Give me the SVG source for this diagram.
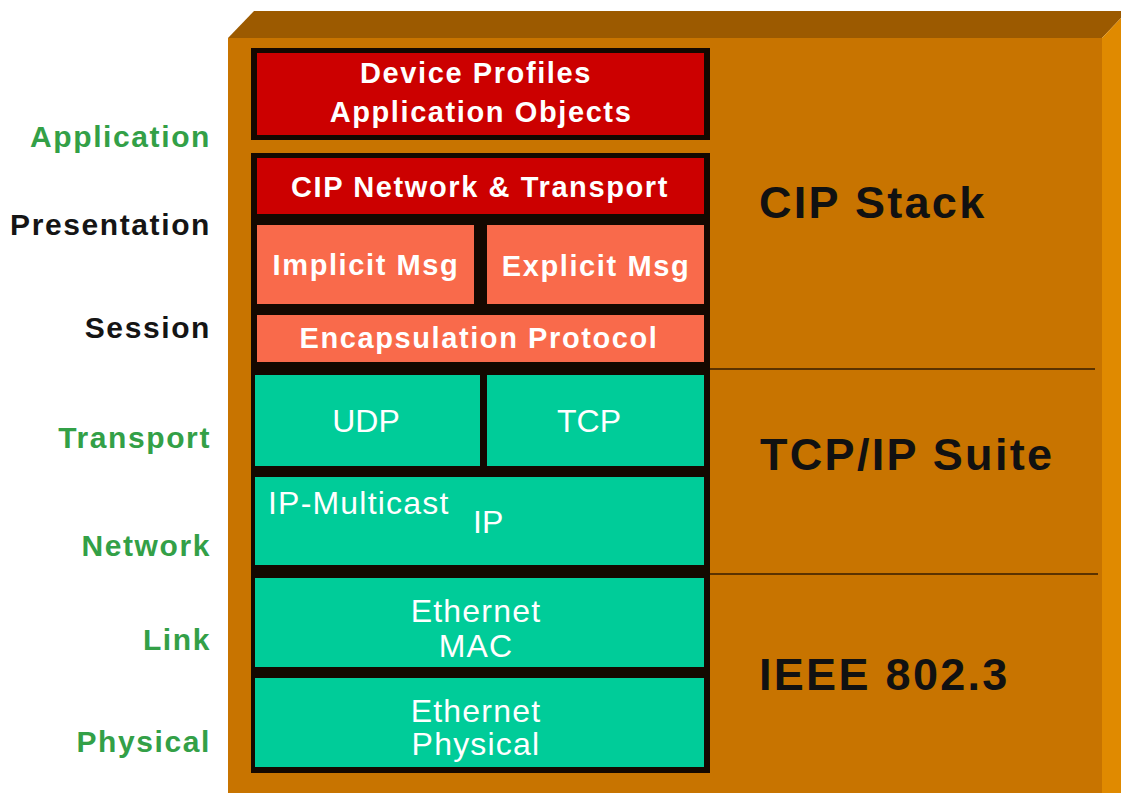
<svg xmlns="http://www.w3.org/2000/svg" width="1121" height="793" viewBox="0 0 1121 793">
<style>
.lbl{font-family:"Liberation Sans",Arial,sans-serif;font-weight:bold;font-size:30px;text-anchor:end;letter-spacing:1.6px}
.g{fill:#33A047}
.k{fill:#151515}
.big{font-family:"Liberation Sans",Arial,sans-serif;font-weight:bold;font-size:45px;fill:#111;letter-spacing:2.3px}
.rt{font-family:"Liberation Sans",Arial,sans-serif;font-weight:bold;font-size:29px;fill:#fff;text-anchor:middle;letter-spacing:1.6px}
.gt{font-family:"Liberation Sans",Arial,sans-serif;font-size:32px;fill:#fff;text-anchor:middle;letter-spacing:1.2px}
.red{fill:#CC0000}
.cor{fill:#F96A4B}
.grn{fill:#00CC99}
.blk{fill:#140800}
.sep{stroke:#5A3200;stroke-width:2;fill:none}
</style>
<rect width="1121" height="793" fill="#ffffff"/>
<g id="box">
<rect x="228" y="38" width="874" height="755" fill="#C87400"/>
<polygon points="228,38 254,11 1121,11 1121,18 1102,38" fill="#9C5A00"/>
<polygon points="1102,38 1121,18 1121,793 1102,793" fill="#E08A00"/>
</g>
<g id="connectors">
<line class="sep" x1="709" y1="369" x2="1095" y2="369"/>
<line class="sep" x1="709" y1="574" x2="1098" y2="574"/>
</g>
<g id="stack-bg">
<rect class="blk" x="251" y="48" width="459" height="92"/>
<rect class="blk" x="251" y="153" width="459" height="217"/>
<rect class="blk" x="251" y="370" width="459" height="403"/>
</g>
<g id="device-profiles">
<rect class="red" x="257" y="53" width="447" height="82"/>
<text class="rt" x="476" y="83">Device Profiles</text>
<text class="rt" x="481" y="122">Application Objects</text>
</g>
<g id="cip-network">
<rect class="red" x="257" y="158" width="447" height="56"/>
<text class="rt" x="480" y="197">CIP Network &amp; Transport</text>
</g>
<g id="implicit-msg">
<rect class="cor" x="257" y="225" width="217" height="79"/>
<text class="rt" x="366" y="275">Implicit Msg</text>
</g>
<g id="explicit-msg">
<rect class="cor" x="487" y="225" width="217" height="79"/>
<text class="rt" x="596" y="276">Explicit Msg</text>
</g>
<g id="encapsulation">
<rect class="cor" x="257" y="315" width="447" height="47"/>
<text class="rt" x="479" y="348">Encapsulation Protocol</text>
</g>
<g id="udp">
<rect class="grn" x="255" y="375" width="225" height="91"/>
<text class="gt" x="366" y="432" style="letter-spacing:0">UDP</text>
</g>
<g id="tcp">
<rect class="grn" x="487" y="375" width="217" height="91"/>
<text class="gt" x="589" y="432" style="letter-spacing:0">TCP</text>
</g>
<g id="ip">
<rect class="grn" x="255" y="477" width="449" height="88"/>
<text class="gt" x="268" y="514" style="text-anchor:start">IP-Multicast</text>
<text class="gt" x="473" y="533" style="text-anchor:start;letter-spacing:0">IP</text>
</g>
<g id="ethernet-mac">
<rect class="grn" x="255" y="578" width="449" height="89"/>
<text class="gt" x="476" y="622">Ethernet</text>
<text class="gt" x="476" y="657">MAC</text>
</g>
<g id="ethernet-physical">
<rect class="grn" x="255" y="678" width="449" height="89"/>
<text class="gt" x="476" y="722">Ethernet</text>
<text class="gt" x="476" y="755">Physical</text>
</g>
<g id="osi-labels">
<text class="lbl g" x="211" y="147">Application</text>
<text class="lbl k" x="211" y="235">Presentation</text>
<text class="lbl k" x="211" y="338">Session</text>
<text class="lbl g" x="211" y="448">Transport</text>
<text class="lbl g" x="211" y="556">Network</text>
<text class="lbl g" x="211" y="650">Link</text>
<text class="lbl g" x="211" y="752">Physical</text>
</g>
<g id="groups">
<text class="big" x="759" y="218">CIP Stack</text>
<text class="big" x="760" y="470">TCP/IP Suite</text>
<text class="big" x="759" y="690">IEEE 802.3</text>
</g>
</svg>
